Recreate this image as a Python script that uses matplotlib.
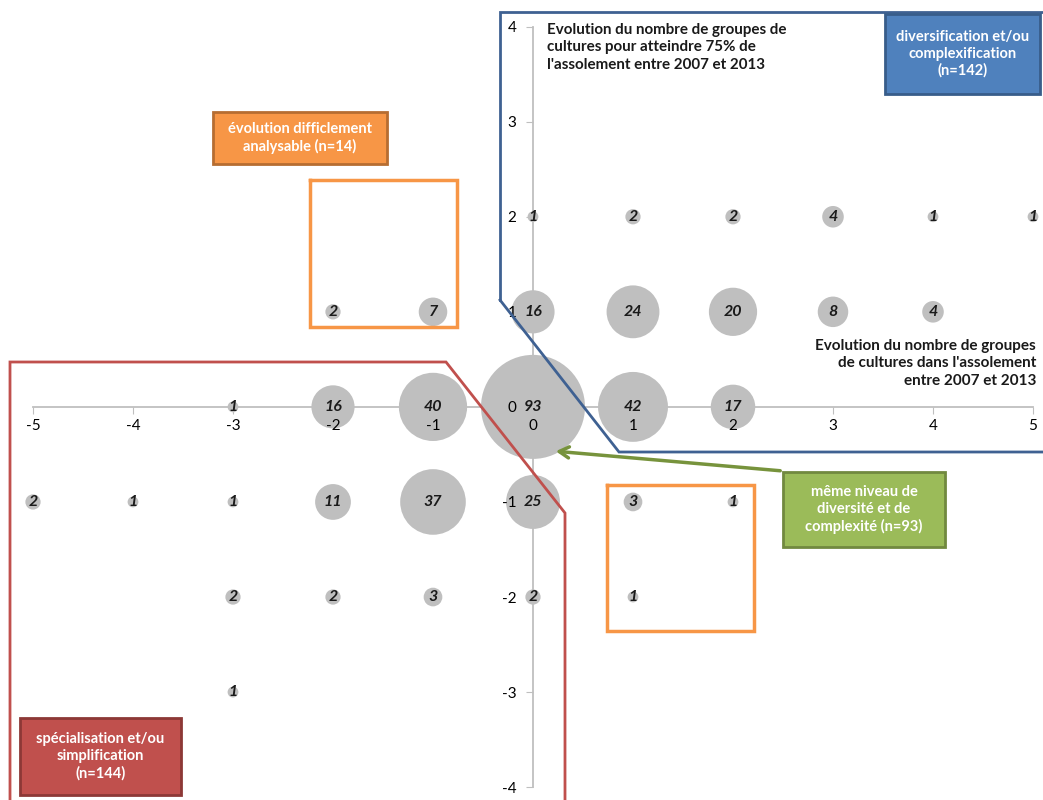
import matplotlib.pyplot as plt
from matplotlib.patches import Rectangle, FancyArrowPatch
from matplotlib.lines import Line2D

plt.rcParams['font.family'] = ['Lato', 'DejaVu Sans']
plt.rcParams['axes.unicode_minus'] = False

# evolution du nombre de groupes (x) / groupes pour 75% (y) / effectif
x_vals = [0, 1, 2, 3, 4, 5,
          -2, -1, 0, 1, 2, 3, 4,
          -3, -2, -1, 0, 1, 2,
          -5, -4, -3, -2, -1, 0, 1, 2,
          -3, -2, -1, 0, 1,
          -3]
y_vals = [2, 2, 2, 2, 2, 2,
          1, 1, 1, 1, 1, 1, 1,
          0, 0, 0, 0, 0, 0,
          -1, -1, -1, -1, -1, -1, -1, -1,
          -2, -2, -2, -2, -2,
          -3]
counts = [1, 2, 2, 4, 1, 1,
          2, 7, 16, 24, 20, 8, 4,
          1, 16, 40, 93, 42, 17,
          2, 1, 1, 11, 37, 25, 3, 1,
          2, 2, 3, 2, 1,
          1]
x_ticks = [-5, -4, -3, -2, -1, 0, 1, 2, 3, 4, 5]
y_ticks = [-4, -3, -2, -1, 0, 1, 2, 3, 4]

W, H = 1043, 800
fig = plt.figure(figsize=(W / 100, H / 100), dpi=100)
ax = fig.add_axes([0, 0, 1, 1])
ax.set_xlim(-5.33, 5.10)
ax.set_ylim(-4.135, 4.28)

ax.scatter(x_vals, y_vals, s=[60.3 * c for c in counts], color='#bfbfbf',
           edgecolors='none', zorder=1)
for x, y, c in zip(x_vals, y_vals, counts):
    ax.text(x, y, str(c), ha='center', va='center', fontsize=11.5,
            fontweight='bold', fontstyle='italic', color='#1a1a1a', zorder=4)

# axes croisés en 0
for side in ['top', 'right']:
    ax.spines[side].set_visible(False)
ax.spines['left'].set_position(('data', 0))
ax.spines['bottom'].set_position(('data', 0))
ax.spines['left'].set_bounds(-4, 4)
ax.spines['bottom'].set_bounds(-5, 5)
for side in ['left', 'bottom']:
    ax.spines[side].set_color('#bfbfbf')
    ax.spines[side].set_linewidth(1.3)
    ax.spines[side].set_zorder(0.5)
ax.set_xticks(x_ticks)
ax.set_yticks(y_ticks)
ax.tick_params(axis='x', direction='out', length=5, color='#bfbfbf',
               labelsize=11, pad=4)
ax.tick_params(axis='y', direction='out', length=5, color='#bfbfbf',
               labelsize=11, pad=7)
ax.xaxis.set_zorder(3)
ax.yaxis.set_zorder(3)
ax.patch.set_visible(False)


def px(x, y):
    return x / W, 1 - y / H


def polyline(points, color, lw=2):
    xs = [px(*p)[0] for p in points]
    ys = [px(*p)[1] for p in points]
    fig.add_artist(Line2D(xs, ys, color=color, lw=lw, transform=fig.transFigure,
                          solid_joinstyle='miter', zorder=2))


def label_box(x0, y0, x1, y1, face, edge, text):
    fx0, fy1 = px(x0, y0)
    fx1, fy0 = px(x1, y1)
    fig.add_artist(Rectangle((fx0, fy0), fx1 - fx0, fy1 - fy0, facecolor=face,
                             edgecolor=edge, lw=2, transform=fig.transFigure,
                             zorder=5))
    fig.text((fx0 + fx1) / 2, (fy0 + fy1) / 2, text, ha='center', va='center',
             color='white', fontsize=10.5, fontweight='bold', linespacing=1.25,
             zorder=6)


# zones
polyline([(500, 300), (500, 12), (1060, 12)], '#3f6192')
polyline([(500, 300), (619, 452), (1060, 452)], '#3f6192')
polyline([(10, 810), (10, 362), (446, 362), (565, 513), (565, 810)], '#c0504d')
polyline([(310, 180), (457, 180), (457, 327), (310, 327), (310, 180)], '#f79646', 2.5)
polyline([(607, 485), (754, 485), (754, 631), (607, 631), (607, 485)], '#f79646', 2.5)

label_box(885, 14, 1040, 94, '#4f81bd', '#385d8a',
          'diversification et/ou\ncomplexification\n(n=142)')
label_box(213, 112, 387, 164, '#f79646', '#b66d31',
          'évolution difficlement\nanalysable (n=14)')
label_box(783, 472, 945, 547, '#9bbb59', '#71893f',
          'même niveau de\ndiversité et de\ncomplexité (n=93)')
label_box(20, 718, 181, 795, '#c0504d', '#8c3836',
          'spécialisation et/ou\nsimplification\n(n=144)')

fig.add_artist(FancyArrowPatch(px(783, 471), px(553, 451), transform=fig.transFigure,
                               arrowstyle='->,head_length=7,head_width=4',
                               color='#77933c', lw=2.5, zorder=5))

# titres des axes
fig.text(547 / W, 1 - 23 / H,
         "Evolution du nombre de groupes de\ncultures pour atteindre 75% de\n"
         "l'assolement entre 2007 et 2013",
         ha='left', va='top', fontsize=10.9, fontweight='bold', color='#1a1a1a',
         linespacing=1.3)
fig.text(1036 / W, 1 - 339 / H,
         "Evolution du nombre de groupes\nde cultures dans l'assolement\n"
         "entre 2007 et 2013",
         ha='right', va='top', fontsize=11, fontweight='bold', color='#1a1a1a',
         linespacing=1.3)

fig.savefig('out.png', dpi=100)
